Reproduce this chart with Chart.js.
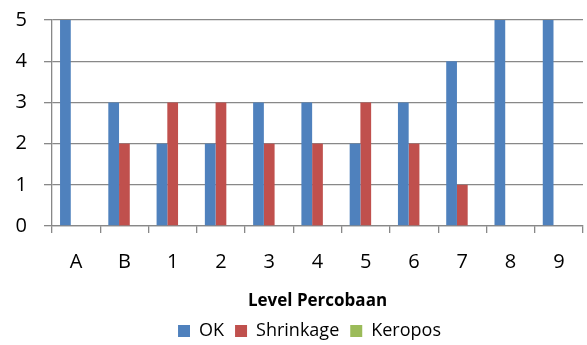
<!DOCTYPE html>
<html>
<head>
<meta charset="utf-8">
<script src="https://cdn.jsdelivr.net/npm/chart.js@4"></script>
<style>
  html, body { margin: 0; padding: 0; background: #fff; }
  #wrap { width: 587px; height: 345px; }
</style>
</head>
<body>
<div id="wrap"><canvas id="c" width="587" height="345"></canvas></div>
<script>
// categories + series
const levels = ['A', 'B', '1', '2', '3', '4', '5', '6', '7', '8', '9'];
const okVals = [5, 3, 2, 2, 3, 3, 2, 3, 4, 5, 5];
const shrinkVals = [0, 2, 3, 3, 2, 2, 3, 2, 1, 0, 0];
const keroposVals = [0, 0, 0, 0, 0, 0, 0, 0, 0, 0, 0];
const yTicks = [0, 1, 2, 3, 4, 5];

const FONT = "'Open Sans', Lato, sans-serif";
const GRID = '#888888';

// the legend sits under the plot area, not under the whole canvas
const legendShift = {
  id: 'legendShift',
  afterLayout(chart) {
    chart.legend.left += 18;
    chart.legend.right += 18;
  },
};

new Chart(document.getElementById('c'), {
  type: 'bar',
  data: {
    labels: levels,
    datasets: [
      { label: 'OK', data: okVals, backgroundColor: '#4F81BD' },
      { label: 'Shrinkage', data: shrinkVals, backgroundColor: '#C0504D' },
      { label: 'Keropos', data: keroposVals, backgroundColor: '#9BBB59' },
    ],
  },
  plugins: [legendShift],
  options: {
    responsive: false,
    animation: false,
    devicePixelRatio: 1,
    layout: { padding: { top: 20, right: 4, left: 0, bottom: -5 } },
    datasets: { bar: { categoryPercentage: 0.667, barPercentage: 1.0 } },
    plugins: {
      tooltip: { enabled: false },
      legend: {
        position: 'bottom',
        labels: {
          boxWidth: 12, boxHeight: 12, padding: 11,
          color: '#000', font: { family: FONT, size: 18 },
        },
      },
    },
    scales: {
      x: {
        afterFit: s => { s.height = 85; s.paddingLeft = 0; s.paddingRight = 0; },
        grid: {
          offset: true, drawOnChartArea: false, drawTicks: true,
          tickLength: 7, color: GRID, lineWidth: 1.3,
        },
        border: { color: GRID, width: 1.3 },
        ticks: { color: '#000', padding: 17, font: { family: FONT, size: 20 } },
        title: {
          display: true, text: 'Level Percobaan', color: '#000',
          font: { family: FONT, size: 17, weight: 'bold' }, padding: { top: 6, bottom: 0 },
        },
      },
      y: {
        min: 0, max: 5,
        afterBuildTicks: s => { s.ticks = yTicks.map(v => ({ value: v })); },
        afterFit: s => { s.width = 52; s.paddingTop = 0; s.paddingBottom = 0; },
        grid: { color: GRID, lineWidth: 1.3, tickLength: 8 },
        border: { color: GRID, width: 1.3 },
        ticks: { color: '#000', padding: 17, font: { family: FONT, size: 20 } },
      },
    },
  },
});
</script>
</body>
</html>
